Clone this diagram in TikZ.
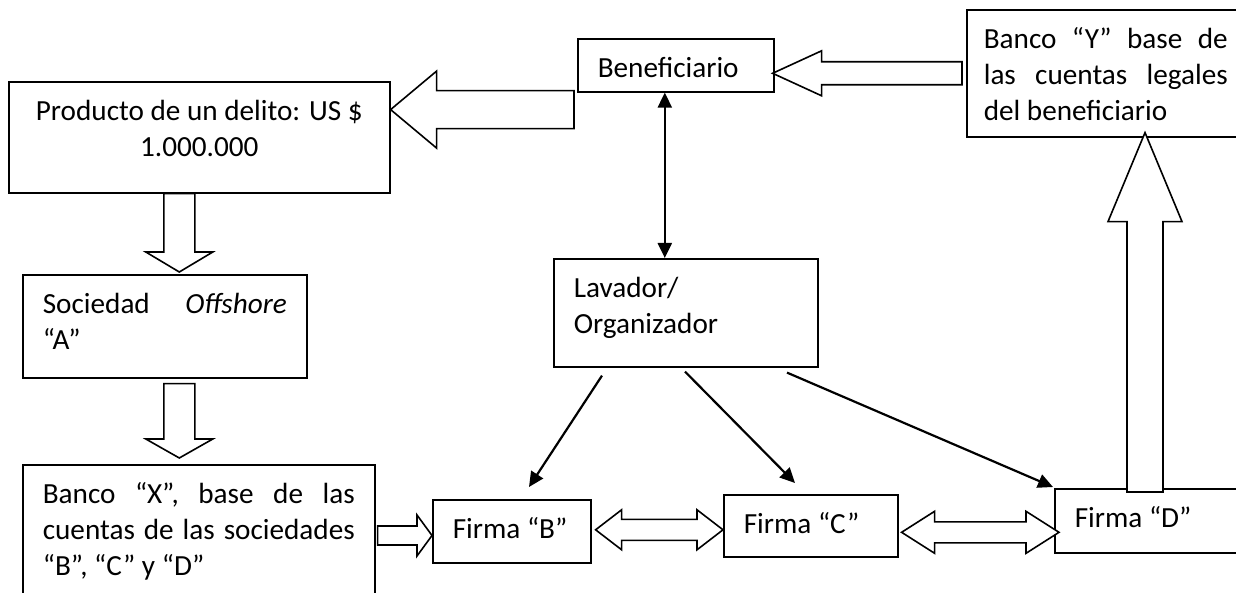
\documentclass[tikz,border=0pt]{standalone}
\usepackage{fontspec}
\setmainfont{Carlito}
\usetikzlibrary{calc,arrows.meta}

\newcommand{\letra}{\fontsize{29.2pt}{35.7pt}\selectfont}
\newcommand{\texto}[3]{\parbox[c][#2][t]{#1}{\strut#3}}
\newcommand{\jline}[1]{\makebox[\linewidth][s]{#1}}
% flecha hueca: cola, punta, medio ancho del cuerpo, medio ancho de la punta, largo de la punta
\newcommand{\flechahueca}[5]{%
	\path (#1) coordinate (fhT) (#2) coordinate (fhP);
	\path ($(fhP)!#5!(fhT)$) coordinate (fhB);
	\draw[hueca] ($(fhT)!#3!90:(fhP)$) -- ($(fhB)!#3!90:(fhP)$) -- ($(fhB)!#4!90:(fhP)$)
		-- (fhP) -- ($(fhB)!#4!-90:(fhP)$) -- ($(fhB)!#3!-90:(fhP)$) -- ($(fhT)!#3!-90:(fhP)$) -- cycle;
}
% flecha hueca doble: punta, punta, medio ancho del cuerpo, medio ancho de la punta, largo de la punta
\newcommand{\flechadoble}[5]{%
	\path (#1) coordinate (fdA) (#2) coordinate (fdB);
	\path ($(fdA)!#5!(fdB)$) coordinate (fdA2) ($(fdB)!#5!(fdA)$) coordinate (fdB2);
	\draw[hueca] (fdA) -- ($(fdA2)!#4!90:(fdB)$) -- ($(fdA2)!#3!90:(fdB)$) -- ($(fdB2)!#3!90:(fdB)$)
		-- ($(fdB2)!#4!90:(fdB)$) -- (fdB) -- ($(fdB2)!#4!-90:(fdB)$) -- ($(fdB2)!#3!-90:(fdB)$)
		-- ($(fdA2)!#3!-90:(fdB)$) -- ($(fdA2)!#4!-90:(fdB)$) -- cycle;
}

\begin{document}
\begin{tikzpicture}[x=1pt, y=-1pt,
		caja/.style={draw, line width=1.6pt, anchor=north west, inner xsep=20pt, inner ysep=14pt, font=\letra},
		hueca/.style={draw, fill=white, line width=1.6pt},
		flecha/.style={line width=2.2pt, -{Triangle[length=15pt,width=14pt]}}]
	% Fondo
	\path[use as bounding box, fill=white]	(0,0) rectangle (1236,593);
	\clip									(0,0) rectangle (1236,593);
	% Cajas
	\node[caja]					(prod)		at (8,81)		{\texto{341pt}{83pt}{\centering Producto de un delito: US \$\\ 1.000.000}};
	\node[caja]					(benef)		at (577,38)		{\texto{156pt}{25pt}{Beneficiario}};
	\node[caja, inner xsep=17pt]	(bancoy)	at (966,9)		{\texto{244pt}{99pt}{\jline{Banco “Y” base de}\\ \jline{las cuentas legales}\\ del beneficiario}};
	\node[caja]					(soc)		at (22,274)		{\texto{244pt}{75pt}{\jline{Sociedad \textit{Offshore}}\\ “A”}};
	\node[caja]					(bancox)	at (22,464)		{\texto{312pt}{108pt}{\jline{Banco “X”, base de las}\\ \jline{cuentas de las sociedades}\\ “B”, “C” y “D”}};
	\node[caja]					(lav)		at (553,258)	{\texto{224pt}{80pt}{Lavador/\\ Organizador}};
	\node[caja]					(firmab)	at (432,499)	{\texto{118pt}{35pt}{Firma~“B”}};
	\node[caja]					(firmac)	at (723,494)	{\texto{134pt}{34pt}{Firma~“C”}};
	\node[caja]					(firmad)	at (1054,488)	{\texto{156pt}{36pt}{Firma~“D”}};
	% Flechas huecas
	\coordinate (t1) at ($(benef.south west)+(-3,17)$);
	\flechahueca{t1}{prod.east |- t1}{19pt}{38.5pt}{46pt}
	\coordinate (t2) at ($(bancoy.west)+(-4,0)$);
	\flechahueca{t2}{$(benef.east |- t2)+(-2,0)$}{11.5pt}{22.5pt}{49pt}
	\coordinate (t3) at ($(prod.south)+(-20,0)$);
	\flechahueca{t3}{$(t3 |- soc.north)+(0,-2)$}{15.5pt}{33.5pt}{20pt}
	\coordinate (t4) at ($(soc.south)+(14.5,5)$);
	\flechahueca{t4}{$(t4 |- bancox.north)+(0,-6)$}{15.5pt}{33.5pt}{19pt}
	\coordinate (t5) at ($(bancox.north east)+(2,71.5)$);
	\flechahueca{t5}{firmab.west |- t5}{9.5pt}{20.5pt}{15pt}
	\coordinate (t6) at ($(firmab.east)+(4,-1.5)$);
	\flechadoble{t6}{firmac.west |- t6}{10.5pt}{20pt}{26pt}
	\coordinate (t7) at ($(firmac.east)+(3,6.5)$);
	\flechadoble{t7}{$(firmad.west |- t7)+(5,0)$}{10.5pt}{21pt}{33pt}
	\coordinate (t8) at ($(firmad.north west)+(91,4)$);
	\flechahueca{t8}{$(t8 |- bancoy.south)+(0,-5)$}{18pt}{37pt}{89pt}
	% Flechas
	\coordinate (t9) at ($(benef.south)+(-11,0)$);
	\draw[flecha, {Triangle[length=15pt,width=14pt]}-{Triangle[length=15pt,width=14pt]}]	(t9) -- (t9 |- lav.north);
	\draw[flecha]	($(lav.south west)+(49,8)$)		-- ($(firmab.north west)+(97,-12)$);
	\draw[flecha]	($(lav.south west)+(132,4)$)	-- ($(firmac.north west)+(72,-11)$);
	\draw[flecha]	($(lav.south west)+(234,5)$)	-- ($(firmad.north west)+(-1,-1)$);
\end{tikzpicture}
\end{document}
